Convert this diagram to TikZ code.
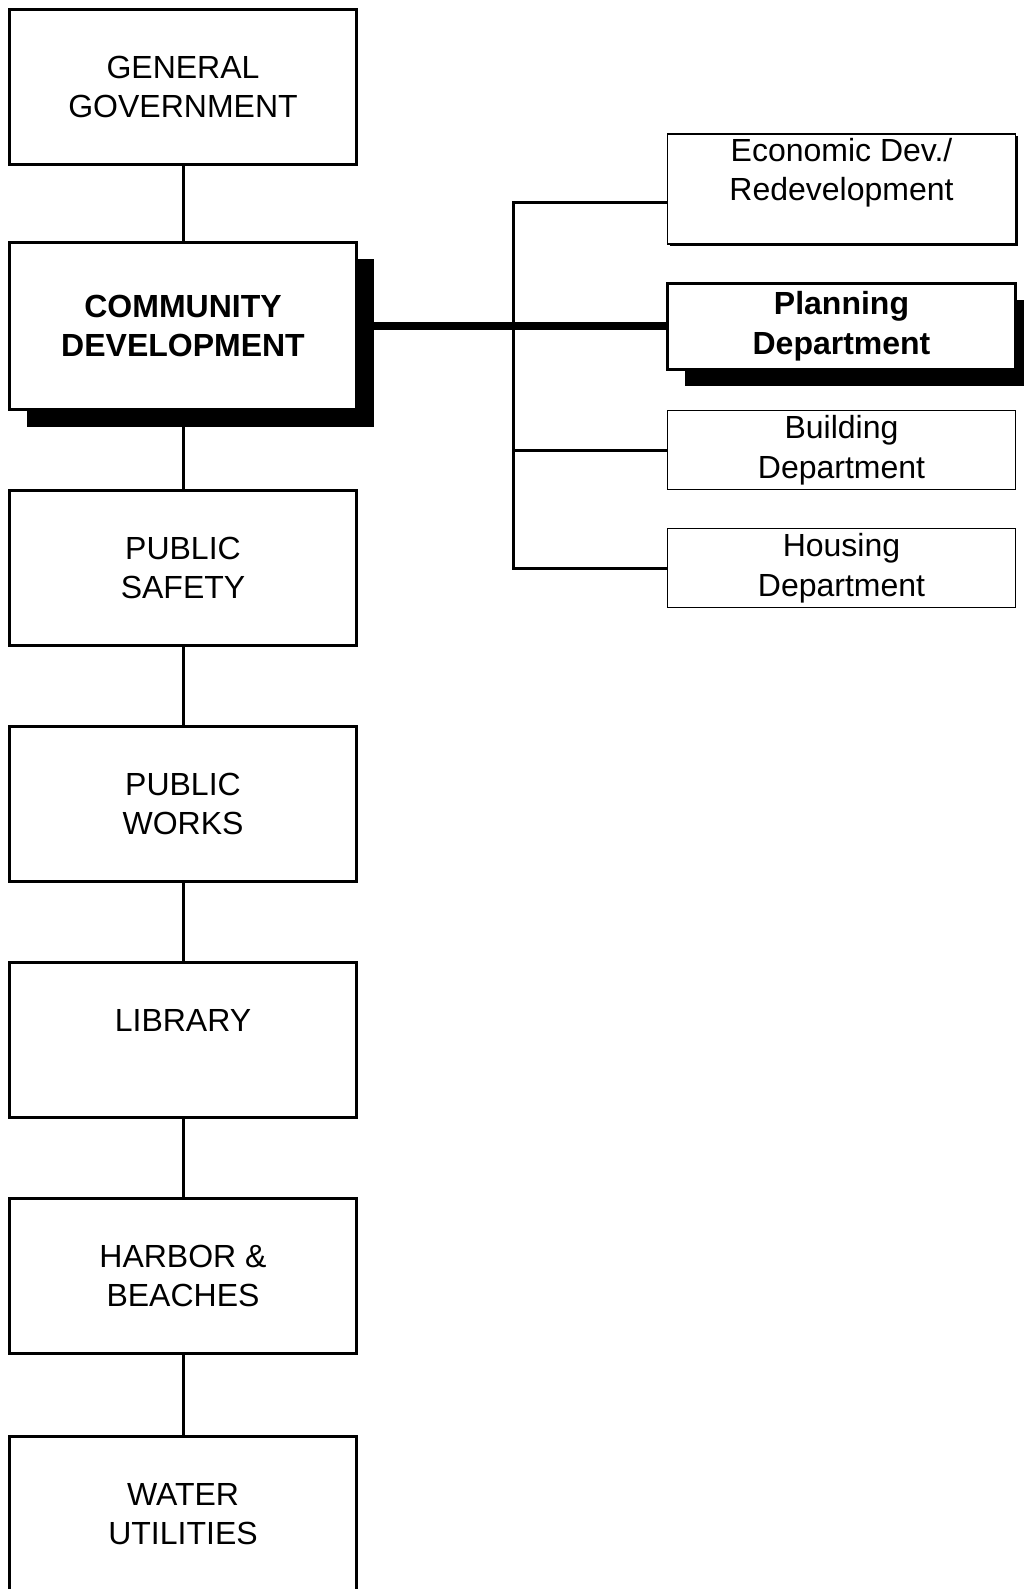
\documentclass[tikz,border=0pt]{standalone}
\usepackage{fontspec}
\setmainfont{Liberation Sans}
\usetikzlibrary{positioning,shadows}

\begin{document}
\begin{tikzpicture}[x=1pt,y=-1pt,
			dept/.style={draw=black,line width=3.5pt,fill=white,minimum width=347pt,minimum height=155pt,align=center,font=\fontsize{32}{39.5}\selectfont},
			unit/.style={draw=black,line width=1.5pt,fill=white,minimum width=348pt,align=center,inner sep=0pt,font=\fontsize{32}{39.5}\selectfont},
			heavy/.style={drop shadow={shadow xshift=17pt,shadow yshift=-17pt,fill=black,opacity=1}},
			link/.style={draw=black,line width=3pt}
			]
			\useasboundingbox (0,0) rectangle (1024,1589);
			% main column
			\node[dept] (gen) at (183,87) {GENERAL\\GOVERNMENT};
			\node[dept,heavy,minimum height=167pt,font=\fontsize{32}{39.5}\selectfont\bfseries] (cd) at (183,326) {COMMUNITY\\DEVELOPMENT};
			\node[dept] (ps) at (183,568) {PUBLIC\\SAFETY};
			\node[dept] (pw) at (183,804) {PUBLIC\\WORKS};
			\node[dept] (lib) at (183,1040) {LIBRARY\\\mbox{}};
			\node[dept] (hb) at (183,1276) {HARBOR \&\\BEACHES};
			\node[dept] (wu) at (183,1514) {WATER\\UTILITIES};
			\draw[link] (gen) -- (cd) (cd) -- (ps) (ps) -- (pw) (pw) -- (lib) (lib) -- (hb) (hb) -- (wu);
			% community development units
			\node[unit,minimum height=110pt,drop shadow={shadow xshift=2.5pt,shadow yshift=-2.5pt,fill=black,opacity=1}] (econ) at (841.5,189) {Economic Dev./\\Redevelopment\\\mbox{}};
			\node[unit,heavy,line width=3pt,minimum height=86pt,font=\fontsize{32}{39.5}\selectfont\bfseries] (plan) at (841.5,326) {Planning\\Department};
			\node[unit,minimum height=79pt] (bld) at (841.5,450) {Building\\Department};
			\node[unit,minimum height=79pt] (hsg) at (841.5,568) {Housing\\Department};
			\coordinate (bustop) at (513,203);
			\coordinate (busend) at (513,568);
			\draw[link] (econ.west |- bustop) -- (bustop) -- (busend) -- (hsg.west);
			\draw[link] (busend |- bld.west) -- (bld.west);
			\draw[draw=black,line width=8pt] (cd.east) -- (plan.west);
		\end{tikzpicture}
\end{document}
